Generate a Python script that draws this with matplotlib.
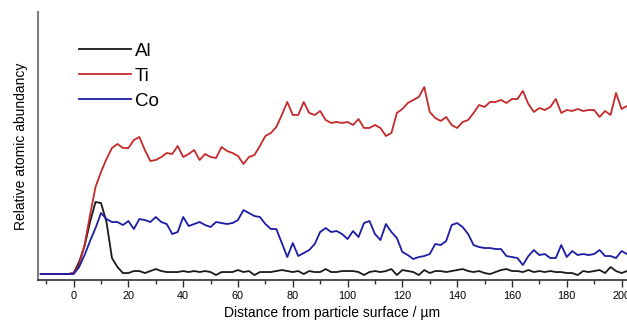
import numpy as np
import matplotlib.pyplot as plt
from matplotlib.ticker import MultipleLocator

plt.rcParams['font.family'] = ['Liberation Sans', 'DejaVu Sans']

# EDX line scan, sampled every 2 um from the particle surface
distance = np.arange(-12, 203, 2)

al = [6, 6, 6, 6, 6, 6,
      7, 18, 34, 58, 78, 77, 58, 22, 13, 7, 7, 9, 9, 7, 9, 11, 9, 8, 8, 8,
      9, 8, 9, 8, 9, 8, 5, 8, 8, 8, 10, 8, 9, 5, 8, 8, 8, 9, 10, 9,
      8, 9, 6, 9, 8, 8, 11, 8, 8, 9, 9, 9, 8, 5, 8, 9, 8, 9, 11, 5,
      10, 9, 8, 5, 10, 7, 9, 9, 8, 9, 10, 11, 9, 8, 9, 7, 6, 8, 10, 11,
      9, 9, 8, 10, 8, 9, 8, 9, 8, 8, 7, 7, 5, 9, 8, 9, 10, 7, 13, 9,
      7, 9]

ti = [6, 6, 6, 6, 6, 6,
      7, 15, 35, 65, 93, 108, 121, 132, 136, 132, 132, 140, 143, 130, 119, 120, 123, 127, 126, 134,
      123, 126, 130, 120, 126, 123, 122, 133, 129, 127, 124, 116, 123, 125, 134, 144,
      147, 153, 165, 178, 165, 165, 178, 167, 165, 169, 160, 157, 158, 157, 158, 155,
      161, 152, 152, 155, 152, 144, 147, 167, 171, 177, 180, 183, 193, 168, 162, 159,
      163, 155, 152, 158, 160, 167, 175, 173, 178, 178, 180, 177, 181, 181, 189, 176,
      168, 172, 170, 173, 181, 167, 170, 169, 171, 169, 170, 170, 163, 169, 165, 187,
      171, 174]

co = [6, 6, 6, 6, 6, 6,
      6, 13, 25, 39, 52, 67, 61, 58, 58, 55, 59, 51, 61, 60, 58, 63, 58, 56, 46, 48,
      63, 54, 56, 58, 55, 53, 58, 57, 56, 57, 60, 70, 67, 64, 63, 56,
      51, 51, 37, 23, 37, 24, 27, 30, 36, 48, 52, 48, 49, 46, 41, 49,
      43, 57, 59, 46, 40, 56, 48, 42, 28, 25, 21, 23, 24, 26, 36, 35,
      39, 55, 57, 53, 46, 35, 33, 32, 32, 31, 31, 24, 23, 22, 15, 24,
      30, 25, 26, 22, 22, 35, 23, 29, 25, 26, 25, 26, 30, 24, 24, 22,
      29, 26]

fig = plt.figure(figsize=(6.27, 3.23), dpi=100)
ax = fig.add_axes([0.0606, 0.133, 0.9394, 0.83])

ax.plot(distance, al, color='#1a1a1a', lw=1.3, label='Al')
ax.plot(distance, ti, color='#c42a2a', lw=1.3, label='Ti')
ax.plot(distance, co, color='#1c1ca6', lw=1.3, label='Co')

ax.set_xlim(-13, 202)
ax.set_ylim(0, 268)

ax.spines['top'].set_visible(False)
ax.spines['right'].set_visible(False)
ax.spines['left'].set_color('#808080')
ax.spines['left'].set_linewidth(1.5)
ax.spines['bottom'].set_color('#303030')
ax.spines['bottom'].set_linewidth(1.2)

ax.set_yticks([])
ax.xaxis.set_major_locator(MultipleLocator(20))
ax.xaxis.set_minor_locator(MultipleLocator(10))
ax.tick_params(axis='x', which='major', direction='out', length=5, width=1,
               color='#303030', labelsize=7.8, pad=3)
ax.tick_params(axis='x', which='minor', direction='out', length=3, width=1,
               color='#303030')

ax.set_xlabel('Distance from particle surface / \u00b5m', fontsize=10, va='top')
ax.xaxis.set_label_coords(0.5, -0.098)
ax.set_ylabel('Relative atomic abundancy', fontsize=10, labelpad=7)

ax.legend(loc='upper left', bbox_to_anchor=(0.07, 0.885), frameon=False,
          fontsize=13.5, handlelength=2.75, handletextpad=0.2,
          labelspacing=0.42, borderpad=0, borderaxespad=0)

fig.savefig('out.png', dpi=100)
